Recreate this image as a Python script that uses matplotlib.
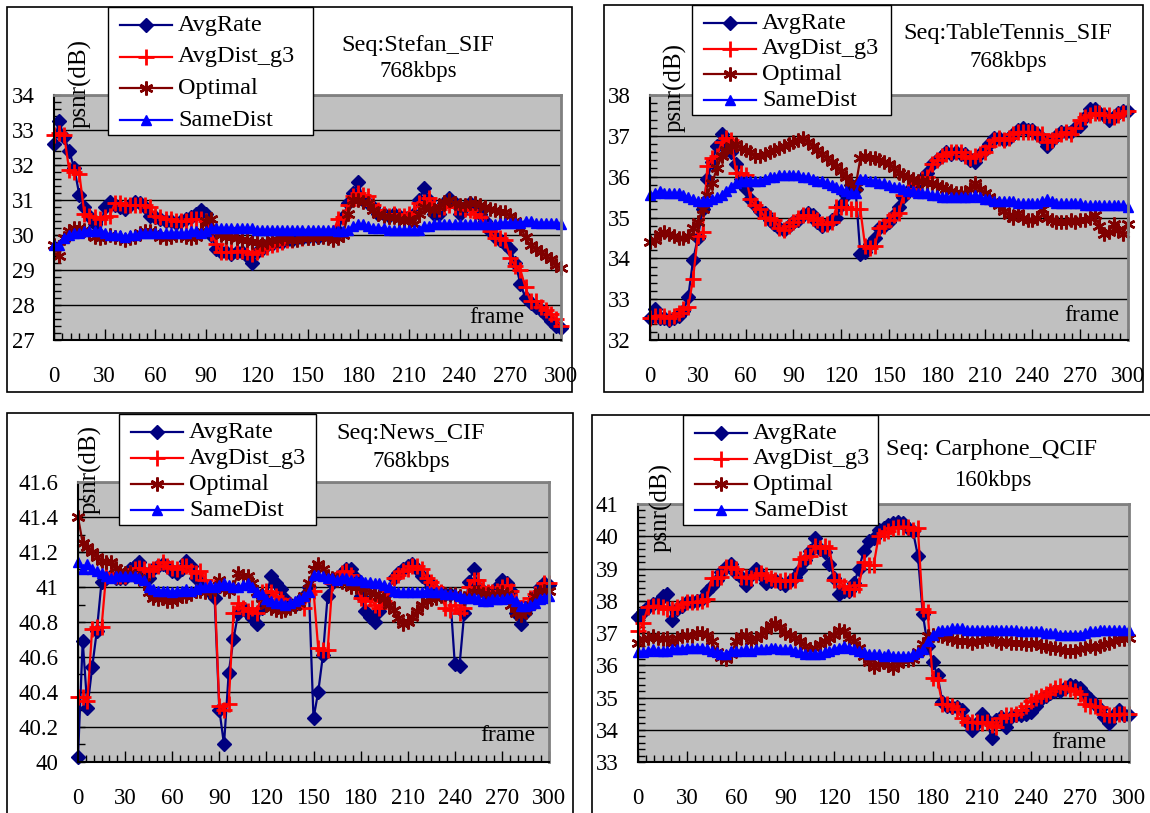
import matplotlib.pyplot as plt
import numpy as np
from matplotlib.lines import Line2D
from matplotlib.patches import Rectangle
from matplotlib.ticker import MultipleLocator, FuncFormatter

W, H = 1150, 813
plt.rcParams['font.family'] = ['Liberation Serif', 'DejaVu Serif']
plt.rcParams['font.size'] = 16.5

frames = np.arange(0, 301, 3)
series_names = ['AvgRate', 'AvgDist_g3', 'Optimal', 'SameDist']

# ---- Seq: Stefan_SIF ----
stefan_rate = [
    32.6, 33.25, 32.8, 32.4, 31.9, 31.15, 30.8, 30.55, 30.3, 30.0,
    30.8, 30.95, 30.85, 30.8, 30.75, 30.85, 30.95, 30.9, 30.8, 30.55,
    30.5, 30.45, 30.4, 30.4, 30.35, 30.4, 30.45, 30.5, 30.6, 30.7,
    30.6, 30.0, 29.6, 29.5, 29.5, 29.45, 29.5, 29.5, 29.4, 29.2,
    29.5, 29.6, 29.7, 29.75, 29.8, 29.8, 29.85, 29.85, 29.9, 29.9,
    29.95, 30.0, 29.95, 30.0, 30.0, 30.0, 30.1, 30.5, 30.9, 31.2,
    31.5, 31.0, 30.9, 30.8, 30.6, 30.6, 30.55, 30.6, 30.55, 30.5,
    30.5, 30.6, 31.0, 31.35, 31.0, 30.6, 30.6, 30.9, 31.05, 30.9,
    30.6, 30.8, 30.9, 30.8, 30.6, 30.4, 30.1, 29.95, 29.85, 29.75,
    29.6, 29.2, 28.6, 28.2, 28.05, 27.95, 27.85, 27.7, 27.55, 27.4,
    27.35]
stefan_dist = [
    32.85, 32.9, 32.85, 31.85, 31.8, 31.75, 30.6, 30.55, 30.5, 30.45,
    30.5, 30.55, 30.9, 30.9, 30.85, 30.85, 30.85, 30.85, 30.85, 30.8,
    30.55, 30.5, 30.45, 30.45, 30.4, 30.4, 30.4, 30.45, 30.45, 30.45,
    30.4, 30.05, 29.75, 29.5, 29.5, 29.5, 29.55, 29.55, 29.5, 29.45,
    29.5, 29.6, 29.65, 29.7, 29.75, 29.8, 29.85, 29.85, 29.9, 29.9,
    29.95, 29.95, 30.0, 30.0, 30.0, 30.05, 30.45, 30.5, 30.85, 31.1,
    31.2, 31.15, 31.1, 30.85, 30.7, 30.6, 30.55, 30.6, 30.55, 30.55,
    30.6, 30.65, 30.9, 30.95, 31.05, 30.85, 30.75, 30.8, 30.85, 30.8,
    30.8, 30.75, 30.7, 30.6, 30.5, 30.35, 30.1, 29.9, 29.9, 29.85,
    29.35, 29.1, 29.0, 28.5, 28.1, 28.1, 27.95, 27.85, 27.75, 27.6,
    27.4]
stefan_opt = [
    29.7, 29.4, 29.9, 30.1, 30.2, 30.2, 30.15, 30.05, 29.95, 29.9,
    29.95, 30.0, 29.95, 29.9, 29.85, 29.9, 29.95, 30.05, 30.1, 30.1,
    30.05, 29.95, 29.9, 29.95, 30.0, 30.0, 29.95, 29.9, 29.95, 30.1,
    30.4, 30.45, 30.1, 30.0, 29.95, 29.95, 29.9, 29.85, 29.85, 29.8,
    29.8, 29.75, 29.8, 29.85, 29.85, 29.9, 29.9, 29.85, 29.85, 29.9,
    29.9, 29.9, 29.95, 29.95, 29.9, 29.85, 29.9, 30.0, 30.6, 31.0,
    31.0, 30.95, 30.9, 30.7, 30.6, 30.55, 30.5, 30.5, 30.45, 30.4,
    30.45, 30.3, 30.6, 30.8, 30.75, 30.7, 30.8, 30.95, 31.0, 30.9,
    30.85, 30.85, 30.9, 30.9, 30.85, 30.8, 30.75, 30.7, 30.65, 30.65,
    30.55, 30.4, 30.2, 29.95, 29.7, 29.6, 29.5, 29.4, 29.3, 29.15,
    29.05]
stefan_same = [
    29.7, 29.7, 29.9, 30.0, 30.05, 30.05, 30.1, 30.1, 30.1, 30.1,
    30.05, 30.0, 30.0, 30.0, 29.95, 30.0, 30.0, 30.05, 30.05, 30.05,
    30.05, 30.05, 30.05, 30.05, 30.05, 30.05, 30.05, 30.1, 30.1, 30.05,
    30.1, 30.2, 30.2, 30.2, 30.2, 30.2, 30.2, 30.2, 30.2, 30.2,
    30.15, 30.15, 30.15, 30.15, 30.15, 30.15, 30.15, 30.15, 30.15, 30.15,
    30.15, 30.15, 30.15, 30.15, 30.15, 30.15, 30.1, 30.1, 30.15, 30.25,
    30.3, 30.3, 30.25, 30.2, 30.2, 30.2, 30.15, 30.15, 30.15, 30.15,
    30.15, 30.15, 30.15, 30.25, 30.25, 30.3, 30.3, 30.3, 30.3, 30.3,
    30.3, 30.3, 30.3, 30.3, 30.3, 30.3, 30.3, 30.3, 30.35, 30.35,
    30.35, 30.35, 30.35, 30.4, 30.4, 30.35, 30.35, 30.35, 30.35, 30.35,
    30.3]

# ---- Seq: TableTennis_SIF ----
tennis_rate = [
    32.55, 32.75, 32.55, 32.55, 32.5, 32.55, 32.6, 32.7, 33.05, 33.95,
    34.5, 35.2, 35.95, 36.35, 36.75, 37.05, 36.85, 36.6, 36.3, 35.95,
    35.7, 35.45, 35.3, 35.15, 35.1, 34.95, 34.85, 34.75, 34.7, 34.8,
    34.9, 34.95, 35.05, 35.1, 35.05, 34.9, 34.8, 34.85, 34.95, 35.0,
    35.3, 35.55, 35.8, 35.7, 34.1, 34.15, 34.35, 34.5, 34.75, 34.8,
    34.9, 35.05, 35.25, 35.5, 35.65, 35.75, 35.85, 35.95, 36.1, 36.3,
    36.4, 36.5, 36.6, 36.55, 36.6, 36.55, 36.55, 36.4, 36.35, 36.55,
    36.65, 36.8, 36.95, 36.95, 36.9, 36.95, 37.05, 37.15, 37.2, 37.15,
    37.15, 37.05, 36.95, 36.75, 36.9, 37.0, 37.1, 37.1, 37.1, 37.2,
    37.25, 37.45, 37.65, 37.65, 37.55, 37.5, 37.4, 37.45, 37.55, 37.6,
    37.6]
tennis_dist = [
    32.55, 32.6, 32.6, 32.6, 32.55, 32.6, 32.65, 32.75, 32.8, 33.5,
    34.55, 34.65, 36.25, 36.45, 36.5, 36.85, 36.95, 36.9, 36.1, 36.1,
    36.05, 35.45, 35.3, 35.2, 35.0, 35.0, 34.95, 34.75, 34.7, 34.8,
    34.9, 35.0, 35.05, 35.05, 35.0, 34.95, 34.85, 34.85, 34.9, 35.25,
    35.25, 35.25, 35.2, 35.2, 35.2, 34.3, 34.25, 34.3, 34.75, 34.8,
    34.95, 35.05, 35.1, 35.55, 35.65, 35.7, 35.85, 35.95, 36.0, 36.3,
    36.4, 36.5, 36.55, 36.6, 36.6, 36.6, 36.5, 36.45, 36.5, 36.55,
    36.6, 36.75, 36.9, 36.95, 36.9, 36.95, 37.05, 37.1, 37.1, 37.1,
    37.1, 37.05, 37.05, 36.85, 36.9, 37.0, 37.05, 37.1, 37.05, 37.2,
    37.4, 37.45, 37.5, 37.55, 37.55, 37.5, 37.5, 37.45, 37.5, 37.55,
    37.6]
tennis_opt = [
    34.4, 34.45, 34.6, 34.65, 34.6, 34.55, 34.5, 34.5, 34.55, 34.75,
    34.9, 35.2, 35.55, 35.85, 36.2, 36.5, 36.65, 36.75, 36.8, 36.7,
    36.65, 36.6, 36.5, 36.5, 36.55, 36.6, 36.65, 36.7, 36.75, 36.8,
    36.85, 36.9, 36.95, 36.85, 36.75, 36.65, 36.55, 36.45, 36.35, 36.25,
    36.15, 36.0, 35.85, 35.75, 36.45, 36.5, 36.45, 36.45, 36.4, 36.35,
    36.3, 36.2, 36.1, 36.05, 36.0, 35.95, 35.9, 35.9, 35.85, 35.85,
    35.8, 35.75, 35.7, 35.65, 35.6, 35.6, 35.6, 35.7, 35.85, 35.7,
    35.6, 35.5, 35.4, 35.3, 35.15, 35.05, 35.0, 35.1, 35.0, 34.95,
    34.95, 35.0, 35.2, 35.0, 34.95, 34.9, 34.9, 34.9, 34.95, 34.9,
    34.95, 34.95, 35.0, 35.05, 34.8, 34.6, 34.65, 34.85, 34.7, 34.6,
    34.85]
tennis_same = [
    35.55, 35.6, 35.65, 35.6, 35.6, 35.6, 35.6, 35.55, 35.5, 35.45,
    35.4, 35.4, 35.4, 35.45, 35.5, 35.55, 35.65, 35.75, 35.85, 35.9,
    35.9, 35.9, 35.9, 35.9, 35.95, 36.0, 36.0, 36.05, 36.05, 36.05,
    36.05, 36.05, 36.0, 36.0, 35.95, 35.9, 35.9, 35.85, 35.8, 35.75,
    35.7, 35.65, 35.6, 35.6, 35.95, 35.95, 35.9, 35.9, 35.85, 35.85,
    35.8, 35.75, 35.75, 35.7, 35.65, 35.65, 35.6, 35.6, 35.6, 35.55,
    35.55, 35.5, 35.5, 35.5, 35.5, 35.5, 35.5, 35.5, 35.55, 35.5,
    35.45, 35.45, 35.4, 35.4, 35.4, 35.4, 35.4, 35.35, 35.35, 35.35,
    35.35, 35.35, 35.4, 35.45, 35.4, 35.35, 35.35, 35.35, 35.35, 35.35,
    35.35, 35.3, 35.3, 35.3, 35.3, 35.3, 35.3, 35.3, 35.3, 35.3,
    35.25]

# ---- Seq: News_CIF ----
news_rate = [
    40.03, 40.69, 40.31, 40.54, 40.75, 41.03, 41.05, 41.06, 41.05, 41.05,
    41.05, 41.1, 41.12, 41.14, 41.08, 41.05, 41.1, 41.12, 41.13, 41.12,
    41.09, 41.08, 41.1, 41.15, 41.12, 41.05, 41.04, 41.0, 40.97, 40.94,
    40.3, 40.1, 40.51, 40.7, 40.85, 40.88, 40.85, 40.82, 40.79, 40.88,
    40.95, 41.06, 41.02, 40.99, 40.93, 40.9, 40.9, 40.92, 40.95, 41.0,
    40.25, 40.4, 40.61, 40.95, 41.02, 41.05, 41.08, 41.1, 41.1, 41.05,
    40.95, 40.86, 40.83, 40.8, 40.86, 40.92, 40.98, 41.05, 41.08, 41.1,
    41.12, 41.13, 41.1, 41.06, 41.04, 41.0, 40.98, 40.97, 40.96, 40.96,
    40.56, 40.55, 40.85, 41.03, 41.1, 41.0, 40.98, 40.95, 40.96, 41.0,
    41.04, 41.02, 40.98, 40.85, 40.79, 40.85, 40.9, 40.95, 41.0, 41.02,
    41.01]
news_dist = [
    40.37, 40.37, 40.35, 40.76, 40.77, 40.77, 41.08, 41.07, 41.06, 41.06,
    41.06, 41.08, 41.1, 41.11, 41.1, 41.09, 41.1, 41.12, 41.14, 41.12,
    41.11, 41.1, 41.12, 41.12, 41.09, 41.08, 41.09, 41.04, 41.0, 41.0,
    40.32, 40.3, 40.33, 40.85, 40.91, 40.88, 40.86, 40.88, 40.85, 40.97,
    40.98, 40.97, 40.95, 40.93, 40.9, 40.9, 40.9, 40.92, 40.88, 40.96,
    40.98, 40.65, 40.64, 40.64, 41.02, 41.05, 41.08, 41.09, 41.07, 41.02,
    40.94, 40.92, 40.93, 40.9, 40.88, 40.92, 40.98, 41.05, 41.07, 41.09,
    41.1, 41.12, 41.12, 41.1, 41.05, 41.03, 41.0, 40.97, 40.88, 40.87,
    40.9, 40.85, 40.88, 41.0, 41.04, 41.04, 41.0, 40.97, 40.97, 40.98,
    41.0, 41.01, 40.98, 40.92, 40.86, 40.88, 40.94, 40.96, 40.98, 41.02,
    41.02]
news_opt = [
    41.4, 41.25, 41.23, 41.2, 41.17, 41.15, 41.14, 41.14, 41.11, 41.09,
    41.08, 41.08, 41.06, 41.05, 41.03, 40.97, 40.94, 40.93, 40.94, 40.92,
    40.92, 40.93, 40.95, 40.95, 40.96, 40.98, 40.98, 40.97, 40.98, 40.99,
    41.04, 40.99, 40.98, 41.0, 41.08, 41.06, 41.06, 41.02, 40.97, 40.94,
    40.9, 40.88, 40.87, 40.86, 40.87, 40.88, 40.89, 40.91, 40.95, 41.02,
    41.1, 41.13, 41.1, 41.06, 41.05, 41.04, 41.03, 41.02, 41.0, 41.0,
    41.0, 40.99, 40.97, 40.96, 40.95, 40.93, 40.9, 40.87, 40.82, 40.79,
    40.8, 40.83, 40.86, 40.9, 40.92, 40.93, 40.94, 40.95, 40.96, 40.96,
    40.96, 40.95, 40.94, 40.95, 40.97, 40.97, 40.96, 40.96, 40.95, 40.96,
    40.97, 40.96, 40.9, 40.85, 40.84, 40.86, 40.9, 40.95, 40.97, 40.98,
    40.98]
news_same = [
    41.14, 41.1, 41.13, 41.1, 41.09, 41.08, 41.06, 41.05, 41.06, 41.06,
    41.06, 41.06, 41.06, 41.05, 41.04, 41.0, 40.99, 40.98, 40.98, 40.98,
    40.97, 40.98, 40.98, 40.99, 40.98, 40.99, 41.0, 41.0, 41.01, 41.0,
    41.01, 41.02, 41.01, 41.0, 41.0, 41.01, 41.02, 41.0, 40.97, 40.96,
    40.93, 40.92, 40.91, 40.91, 40.9, 40.91, 40.92, 40.93, 40.95, 40.97,
    41.07, 41.07, 41.06, 41.05, 41.05, 41.04, 41.05, 41.05, 41.04, 41.04,
    41.04, 41.03, 41.03, 41.02, 41.02, 41.01, 41.0, 40.98, 40.97, 40.97,
    40.97, 40.97, 40.97, 40.97, 40.98, 40.97, 40.97, 40.97, 40.96, 40.96,
    40.96, 40.95, 40.94, 40.94, 40.94, 40.93, 40.92, 40.92, 40.93, 40.93,
    40.93, 40.94, 40.94, 40.92, 40.89, 40.89, 40.9, 40.91, 40.93, 40.94,
    40.95]

# ---- Seq: Carphone_QCIF ----
car_rate = [
    37.5, 37.65, 37.8, 37.9, 37.95, 38.15, 38.2, 37.4, 37.75, 37.85,
    37.95, 37.95, 38.0, 38.05, 38.3, 38.45, 38.65, 38.9, 39.05, 39.15,
    38.85, 38.75, 38.5, 38.8, 39.0, 38.8, 38.55, 38.6, 38.65, 38.55,
    38.5, 38.6, 38.75, 38.95, 39.25, 39.55, 39.95, 39.6, 39.5, 39.15,
    38.7, 38.2, 38.3, 38.3, 38.55, 39.0, 39.55, 39.85, 39.95, 40.2,
    40.25, 40.35, 40.4, 40.45, 40.4, 40.25, 40.15, 39.4, 37.6, 36.6,
    36.1, 35.7, 34.85, 34.75, 34.7, 34.7, 34.6, 34.25, 34.0, 34.2,
    34.5, 34.3, 33.75, 34.3, 34.4, 34.1, 34.4, 34.45, 34.45, 34.5,
    34.55, 34.75, 34.95, 35.05, 35.15, 35.2, 35.2, 35.3, 35.4, 35.35,
    35.3, 35.1, 34.95, 34.8, 34.65, 34.4, 34.2, 34.45, 34.6, 34.45,
    34.45]
car_dist = [
    37.05, 37.3, 37.8, 37.85, 37.85, 37.8, 37.75, 37.75, 37.8, 37.9,
    37.95, 37.95, 37.95, 38.0, 38.05, 38.7, 38.7, 38.75, 39.05, 39.05,
    39.0, 38.75, 38.75, 38.7, 38.8, 38.85, 38.8, 38.7, 38.65, 38.6,
    38.65, 38.6, 38.65, 39.3, 39.35, 39.4, 39.7, 39.65, 39.7, 39.65,
    38.65, 38.6, 38.45, 38.35, 38.35, 38.5, 39.2, 39.1, 39.1, 40.0,
    40.1, 40.15, 40.25, 40.3, 40.3, 40.3, 40.2, 40.25, 37.75, 37.65,
    35.6, 35.55, 34.8, 34.8, 34.75, 34.65, 34.35, 34.25, 34.25, 34.25,
    34.2, 34.25, 34.15, 34.1, 34.35, 34.45, 34.45, 34.5, 34.6, 34.75,
    34.9, 35.0, 35.05, 35.1, 35.2, 35.3, 35.35, 35.3, 35.25, 35.2,
    35.1, 34.8, 34.75, 34.75, 34.7, 34.5, 34.45, 34.45, 34.5, 34.5,
    34.5]
car_opt = [
    36.7, 36.8, 36.85, 36.9, 36.85, 36.8, 36.85, 36.7, 36.85, 36.9,
    36.95, 36.9, 37.0, 37.0, 36.95, 36.75, 36.4, 36.25, 36.2, 36.35,
    36.75, 36.9, 36.95, 36.75, 36.85, 36.95, 37.1, 37.25, 37.3, 37.2,
    37.0, 36.95, 36.85, 36.75, 36.6, 36.5, 36.55, 36.65, 36.75, 36.85,
    36.95, 37.1, 37.05, 36.85, 36.75, 36.55, 36.3, 36.1, 35.95, 36.05,
    36.1, 36.0, 35.9, 36.05, 36.15, 36.15, 36.2, 36.4, 36.65, 36.9,
    36.95, 36.95, 36.9, 36.85, 36.8, 36.75, 36.75, 36.75, 36.7, 36.75,
    36.75, 36.8, 36.8, 36.75, 36.7, 36.75, 36.7, 36.7, 36.7, 36.65,
    36.65, 36.7, 36.6, 36.6, 36.55, 36.55, 36.5, 36.45, 36.45, 36.45,
    36.5, 36.55, 36.6, 36.55, 36.6, 36.65, 36.7, 36.75, 36.8, 36.8,
    36.85]
car_same = [
    36.4, 36.4, 36.45, 36.5, 36.45, 36.45, 36.45, 36.5, 36.5, 36.5,
    36.55, 36.55, 36.55, 36.55, 36.5, 36.45, 36.4, 36.35, 36.35, 36.45,
    36.45, 36.45, 36.5, 36.45, 36.5, 36.5, 36.5, 36.55, 36.55, 36.5,
    36.5, 36.5, 36.45, 36.4, 36.35, 36.35, 36.35, 36.35, 36.4, 36.45,
    36.5, 36.55, 36.6, 36.55, 36.5, 36.45, 36.4, 36.35, 36.35, 36.35,
    36.3, 36.35, 36.3, 36.3, 36.3, 36.3, 36.35, 36.4, 36.5, 36.75,
    36.95, 37.05, 37.1, 37.1, 37.15, 37.15, 37.15, 37.1, 37.1, 37.1,
    37.1, 37.1, 37.1, 37.1, 37.1, 37.1, 37.1, 37.1, 37.05, 37.05,
    37.05, 37.05, 37.05, 37.0, 37.0, 37.0, 36.95, 36.95, 36.95, 36.95,
    36.95, 37.0, 37.05, 37.05, 37.1, 37.1, 37.1, 37.1, 37.1, 37.1,
    37.1]

styles = [
    dict(color='#000080', marker='D', ms=7, mec='#000080'),
    dict(color='#ff0000', marker='+', ms=12, mew=2),
    dict(color='#800000', marker=(6, 2, 0), ms=10, mew=1.8),
    dict(color='#0000ff', marker='^', ms=6.5, mec='#0000ff'),
]

# pixel layout of each panel: border, plot area, legend box, title centre,
# psnr label, frame label
panels = [
    dict(data=[stefan_rate, stefan_dist, stefan_opt, stefan_same],
         ylim=(27, 34), major=1, minor=0.2,
         border=(7, 7, 572, 392), plot=(54, 95, 561, 340),
         legend=(108, 7, 313, 135), title=('Seq:Stefan_SIF', 418, 45), rate=(418, 72),
         ylab=(80, 83), frame=(497, 317)),
    dict(data=[tennis_rate, tennis_dist, tennis_opt, tennis_same],
         ylim=(32, 38), major=1, minor=0.2,
         border=(604, 5, 1143, 392), plot=(650, 95, 1128, 340),
         legend=(692, 5, 891, 115), title=('Seq:TableTennis_SIF', 1008, 33), rate=(1008, 62),
         ylab=(675, 88), frame=(1092, 315)),
    dict(data=[news_rate, news_dist, news_opt, news_same],
         ylim=(40, 41.6), major=0.2, minor=0.1,
         border=(7, 413, 573, 830), plot=(78, 482, 549, 762),
         legend=(119, 414, 316, 525), title=('Seq:News_CIF', 411, 433), rate=(411, 461),
         ylab=(90, 469), frame=(508, 735)),
    dict(data=[car_rate, car_dist, car_opt, car_same],
         ylim=(33, 41), major=1, minor=0.2,
         border=(592, 415, 1160, 830), plot=(638, 504, 1129, 762),
         legend=(683, 415, 878, 525), title=('Seq: Carphone_QCIF', 992, 449), rate=(993, 480),
         ylab=(661, 507), frame=(1079, 742)),
]
rates = ['768kbps', '768kbps', '768kbps', '160kbps']

fig = plt.figure(figsize=(W / 100, H / 100), dpi=100)


def fig_box(x0, y0, x1, y1):
    return [x0 / W, 1 - y1 / H, (x1 - x0) / W, (y1 - y0) / H]


def fx(x):
    return x / W


def fy(y):
    return 1 - y / H


for p, rate in zip(panels, rates):
    bx0, by0, bx1, by1 = p['border']
    fig.add_artist(Rectangle((fx(bx0), fy(by1)), (bx1 - bx0) / W, (by1 - by0) / H,
                             transform=fig.transFigure, fill=False, ec='black', lw=1.2))
    ax = fig.add_axes(fig_box(*p['plot']))
    ax.set_facecolor('#c0c0c0')
    for vals, st in zip(p['data'], styles):
        ax.plot(frames, vals, lw=1.6, clip_on=False, **st)
    ax.set_xlim(0, 300)
    ax.set_ylim(*p['ylim'])
    ax.xaxis.set_major_locator(MultipleLocator(30))
    ax.xaxis.set_minor_locator(MultipleLocator(5))
    ax.yaxis.set_major_locator(MultipleLocator(p['major']))
    ax.yaxis.set_minor_locator(MultipleLocator(p['minor']))
    ax.yaxis.set_major_formatter(FuncFormatter(lambda v, _: f'{v:g}'))
    ax.yaxis.grid(True, which='major', color='black', lw=1)
    ax.set_axisbelow(True)
    ax.tick_params(axis='x', which='major', direction='in', length=8, width=1, pad=19)
    ax.tick_params(axis='x', which='minor', direction='in', length=5, width=1)
    ax.tick_params(axis='y', which='both', direction='in', length=5, width=1, pad=14)
    for s in ('left', 'bottom'):
        ax.spines[s].set_color('black')
        ax.spines[s].set_linewidth(1.5)
    for s in ('top', 'right'):
        ax.spines[s].set_color('#808080')
        ax.spines[s].set_linewidth(2)

    # legend box drawn by hand so its padding matches the original
    lx0, ly0, lx1, ly1 = p['legend']
    fig.add_artist(Rectangle((fx(lx0), fy(ly1)), (lx1 - lx0) / W, (ly1 - ly0) / H,
                             transform=fig.transFigure, fc='white', ec='black',
                             lw=1.0, zorder=5))
    step = (ly1 - ly0 - 33) / 3
    for i, (name, st) in enumerate(zip(series_names, styles)):
        ry = fy(ly0 + 18 + i * step)
        fig.add_artist(Line2D([fx(lx0 + 12), fx(lx0 + 64)], [ry, ry],
                              transform=fig.transFigure, color=st['color'], lw=1.6, zorder=6))
        fig.add_artist(Line2D([fx(lx0 + 38)], [ry], transform=fig.transFigure,
                              ls='none', zorder=7, **st))
        fig.text(fx(lx0 + 70), ry, name, ha='left', va='center', fontsize=17.5, zorder=8)

    t, tx, ty = p['title']
    fig.text(fx(tx), fy(ty), t, ha='center', va='center', fontsize=17.5)
    fig.text(fx(p['rate'][0]), fy(p['rate'][1]), rate, ha='center', va='center', fontsize=16.5)
    fig.text(fx(p['ylab'][0]), fy(p['ylab'][1]), 'psnr(dB)', rotation=90,
             ha='center', va='center', fontsize=18)
    fig.text(fx(p['frame'][0]), fy(p['frame'][1]), 'frame', ha='center', va='center',
             fontsize=17)

fig.savefig('out.png', dpi=100)
